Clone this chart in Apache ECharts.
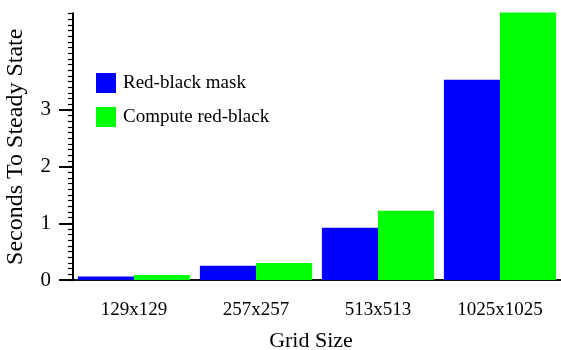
<!DOCTYPE html>
<html>
<head>
<meta charset="utf-8">
<script src="https://cdn.jsdelivr.net/npm/echarts@6/dist/echarts.min.js"></script>
<style>html,body{margin:0;padding:0;background:#fff}#c{width:561px;height:350px}</style>
</head>
<body>
<div id="c"></div>
<script>
var categories = ['129x129', '257x257', '513x513', '1025x1025'];
var maskValues = [0.06, 0.25, 0.92, 3.53];
var computeValues = [0.09, 0.30, 1.22, 4.72];
var seriesNames = ['Red-black mask', 'Compute red-black'];
var yTickValues = [0, 1, 2, 3, 4];
var yAxisTop = 4.7;

var font = 'Liberation Serif';
var unit = 56.7;
var bottom = 70;
var chart = echarts.init(document.getElementById('c'));
chart.setOption({
  animation: false,
  backgroundColor: '#fff',
  textStyle: { fontFamily: font, color: '#000' },
  legend: {
    orient: 'vertical', left: 96, top: 73, padding: 0, itemWidth: 20, itemHeight: 20, itemGap: 14,
    icon: 'rect',
    textStyle: { fontFamily: font, fontSize: 19, color: '#000', padding: [0, 0, 0, 2] },
    data: seriesNames
  },
  grid: { left: 73, right: 0, bottom: bottom, top: 350 - bottom - yAxisTop * unit, outerBoundsMode: 'none', containLabel: false },
  xAxis: {
    type: 'category', data: categories,
    axisLine: { lineStyle: { color: '#111', width: 2 } },
    axisTick: { alignWithLabel: true, length: 3, lineStyle: { color: '#111' } },
    axisLabel: { fontFamily: font, fontSize: 19, color: '#000', margin: 21 },
    name: 'Grid Size', nameLocation: 'middle', nameGap: 50,
    nameTextStyle: { fontFamily: font, fontSize: 22, color: '#000', padding: [0, 12, 0, 0] }
  },
  yAxis: [
    {
      type: 'value', position: 'left', min: 0, max: yAxisTop, interval: 0.1,
      axisLine: { show: true, lineStyle: { color: '#000', width: 2 } },
      axisTick: { show: true, length: 5, lineStyle: { color: '#000', width: 1.2 } },
      axisLabel: { show: false },
      splitLine: { show: false },
      name: 'Seconds To Steady State', nameLocation: 'middle', nameGap: 45,
      nameTextStyle: { fontFamily: font, fontSize: 24, color: '#000' }
    },
    {
      type: 'value', position: 'left', offset: 0, min: 0, max: yAxisTop, interval: 1,
      axisLine: { show: true, lineStyle: { color: '#000', width: 2 } },
      axisTick: { show: true, length: 14, customValues: yTickValues, lineStyle: { color: '#000', width: 2 } },
      axisLabel: {
        fontFamily: font, fontSize: 21, color: '#000', margin: 22, customValues: yTickValues,
        showMaxLabel: false,
        formatter: function (v) { return yTickValues.indexOf(v) >= 0 ? String(v) : ''; }
      },
      splitLine: { show: false }
    }
  ],
  series: [
    { name: seriesNames[0], type: 'bar', yAxisIndex: 0, data: maskValues,
      itemStyle: { color: '#0000ff' }, barGap: 0, barCategoryGap: '8%', clip: false },
    { name: seriesNames[1], type: 'bar', yAxisIndex: 0, data: computeValues,
      itemStyle: { color: '#00ff00' }, barGap: 0, barCategoryGap: '8%', clip: false }
  ]
});
</script>
</body>
</html>
